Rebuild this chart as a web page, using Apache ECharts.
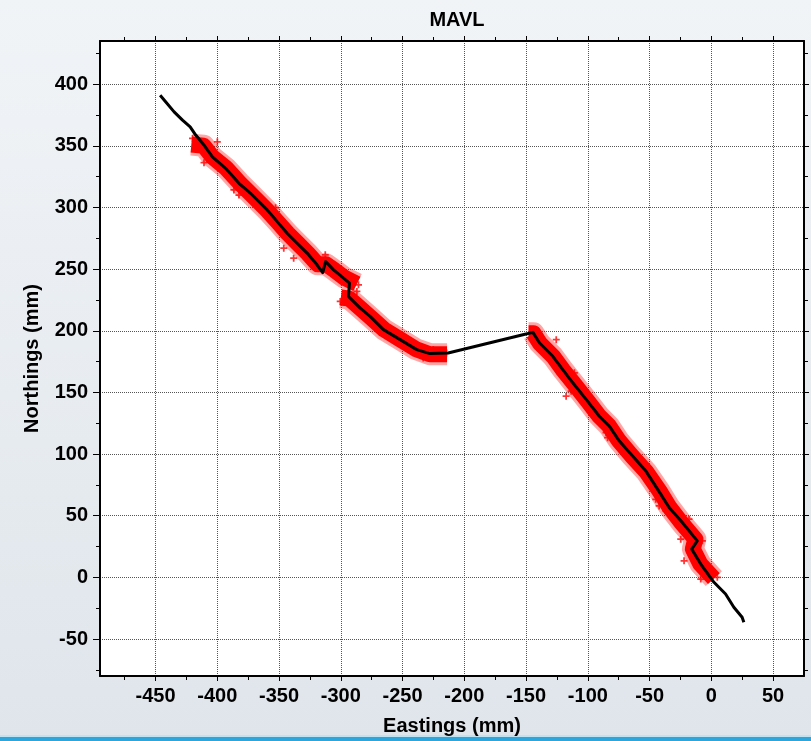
<!DOCTYPE html>
<html>
<head>
<meta charset="utf-8">
<script src="https://cdn.jsdelivr.net/npm/echarts@6/dist/echarts.min.js"></script>
<style>
	html, body { margin: 0; padding: 0; }
	#main { width: 811px; height: 741px; }
</style>
</head>
<body>
<div id="main"></div>
<script>
// tick values
var xMajor = [ -450, -400, -350, -300, -250, -200, -150, -100, -50, 0, 50 ];
var xMinor = [ -475, -425, -375, -325, -275, -225, -175, -125, -75, -25, 25 ];
var yMajor = [ -50, 0, 50, 100, 150, 200, 250, 300, 350, 400 ];
var yMinor = [ -75, -25, 25, 75, 125, 175, 225, 275, 325, 375, 425 ];

// black track (Eastings, Northings)
var track = [ [ -446.3, 391 ], [ -441.7, 385.6 ], [ -435, 377.5 ], [ -428.2, 370.8 ],
		[ -422, 365.4 ], [ -417.5, 358.7 ], [ -410.8, 350.6 ], [ -404, 341.1 ],
		[ -393.3, 331.7 ], [ -382.5, 319.6 ], [ -373.1, 311.5 ], [ -359.6, 298 ],
		[ -351.5, 288.5 ], [ -343.5, 279.1 ], [ -335.4, 271 ], [ -327.3, 263 ],
		[ -319.3, 253.5 ], [ -314.7, 247.2 ], [ -312.3, 256.1 ], [ -305.9, 249.4 ],
		[ -297.8, 242.7 ], [ -293, 238.7 ], [ -293.8, 227.8 ], [ -284.3, 218.4 ],
		[ -276.3, 211.7 ], [ -265.5, 200.9 ], [ -252, 192.8 ], [ -238.6, 184.7 ],
		[ -227.9, 181.5 ], [ -213.1, 182 ], [ -152.6, 196.8 ], [ -144.5, 198.7 ],
		[ -139.1, 190.1 ], [ -128.4, 179.3 ], [ -120.3, 168.5 ], [ -112.2, 157.8 ],
		[ -101.4, 144.3 ], [ -90.7, 130.7 ], [ -82.6, 122.7 ], [ -74.5, 110.5 ],
		[ -63.8, 98.4 ], [ -53, 86.2 ], [ -42.3, 69.5 ], [ -34.2, 56.6 ],
		[ -23.5, 44.5 ], [ -11.4, 29.6 ], [ -15.9, 22.9 ], [ -8.6, 10.8 ],
		[ 2.1, -4 ], [ 11.5, -13.5 ], [ 18.2, -24.3 ], [ 24.9, -32.4 ], [ 26.3, -36.4 ] ];

// red measurement cloud, read as band centre lines
var redBand1 = [ [ -421, 351 ], [ -411, 350 ], [ -404, 341 ], [ -393, 332 ], [ -382, 320 ],
		[ -373, 311 ], [ -360, 298 ], [ -351, 288 ], [ -343, 279 ], [ -335, 271 ],
		[ -327, 263 ], [ -319, 254 ], [ -312, 254 ], [ -305, 249 ], [ -297, 243 ],
		[ -287, 238 ] ];
var redBand2 = [ [ -300, 227 ], [ -293, 226 ], [ -284, 218 ], [ -276, 211 ], [ -265, 201 ],
		[ -252, 193 ], [ -239, 185 ], [ -228, 181 ], [ -214, 181 ] ];
var redBand3 = [ [ -148, 198 ], [ -144, 198 ], [ -139, 190 ], [ -128, 179 ], [ -120, 168 ],
		[ -112, 158 ], [ -101, 144 ], [ -91, 131 ], [ -83, 123 ], [ -75, 111 ],
		[ -64, 98 ], [ -53, 86 ], [ -42, 70 ], [ -34, 57 ], [ -24, 44 ], [ -13, 31 ],
		[ -15, 23 ], [ -9, 11 ], [ 2, -1 ] ];
// loose crosses at the edge of the cloud
var redOutliers = [ [ -400, 353.2 ], [ -410.8, 336.3 ], [ -420.1, 356 ], [ -386.6, 314.2 ],
		[ -382.5, 310.1 ], [ -352.9, 299.8 ], [ -346.2, 267 ], [ -338.2, 258.9 ],
		[ -312.6, 261.6 ], [ -285.7, 237.3 ], [ -287, 231.9 ], [ -300.5, 223.8 ],
		[ -225.2, 184.7 ], [ -214.4, 182 ], [ -233.3, 178 ], [ -117.6, 146.9 ],
		[ -113.5, 151 ], [ -84, 113.3 ], [ -85.3, 117.3 ], [ -58.4, 90.3 ],
		[ -45, 63.3 ], [ -36.9, 53.9 ], [ -125.6, 192.8 ], [ -110.9, 165.9 ],
		[ -42.3, 57.9 ], [ -24.8, 31 ], [ -18.1, 47.2 ], [ -22.1, 13.4 ],
		[ -7.3, 29.6 ], [ -8.6, -1.4 ], [ 4.8, 0 ] ];

var redData = redBand1.concat([ '-' ], redBand2, [ '-' ], redBand3);

var font = 'Liberation Sans, Arial, sans-serif';
var gridStyle = {
	color : '#555',
	width : 1,
	type : [ 1, 1 ]
};

function tickAxis(pos, vals, len, showLine) {
	return {
		type : 'value',
		position : pos,
		min : pos == 'top' || pos == 'bottom' ? -495 : -80,
		max : pos == 'top' || pos == 'bottom' ? 75 : 435,
		axisLine : {
			show : showLine,
			onZero : false,
			lineStyle : { color : '#000', width : 2 }
		},
		axisTick : {
			show : true,
			length : len,
			customValues : vals,
			lineStyle : { color : '#000', width : 1 }
		},
		axisLabel : { show : false },
		splitLine : { show : false }
	};
}

function showChart(divId) {
	var chart = echarts.init(document.getElementById(divId));
	var xMain = tickAxis('bottom', xMajor, 5, true);
	xMain.axisLabel = {
		show : true,
		customValues : xMajor,
		margin : 10,
		color : '#000',
		fontFamily : font,
		fontWeight : 'bold',
		fontSize : 20
	};
	xMain.splitLine = { show : true, lineStyle : gridStyle };
	xMain.name = 'Eastings (mm)';
	xMain.nameLocation = 'middle';
	xMain.nameGap = 40;
	xMain.nameTextStyle = { color : '#000', fontFamily : font, fontWeight : 'bold', fontSize : 20 };

	var yMain = tickAxis('left', yMajor, 7, true);
	yMain.axisLabel = {
		show : true,
		customValues : yMajor,
		margin : 12,
		color : '#000',
		fontFamily : font,
		fontWeight : 'bold',
		fontSize : 20
	};
	yMain.splitLine = { show : true, lineStyle : gridStyle };
	yMain.name = 'Northings (mm)';
	yMain.nameLocation = 'middle';
	yMain.nameGap = 58;
	yMain.nameTextStyle = { color : '#000', fontFamily : font, fontWeight : 'bold', fontSize : 20 };

	var option = {
		backgroundColor : new echarts.graphic.LinearGradient(0, 0, 0, 1, [ {
			offset : 0,
			color : '#f1f4f7'
		}, {
			offset : 1,
			color : '#dfe5eb'
		} ]),
		title : {
			text : 'MAVL',
			left : 452,
			top : 5,
			textAlign : 'center',
			textStyle : { color : '#000', fontFamily : font, fontWeight : 'bold', fontSize : 20 }
		},
		grid : {
			left : 100,
			right : 7,
			top : 41,
			bottom : 64,
			show : true,
			backgroundColor : '#fff',
			borderWidth : 0
		},
		graphic : [ {
			type : 'rect',
			left : 0,
			bottom : 0,
			shape : { width : 811, height : 4 },
			style : { fill : '#2ea6dc' }
		}, {
			type : 'rect',
			left : 0,
			bottom : 4,
			shape : { width : 811, height : 2 },
			style : { fill : '#bfe3f2' }
		} ],
		xAxis : [ xMain, tickAxis('bottom', xMinor, 4, false),
				tickAxis('top', xMajor, 5, true), tickAxis('top', xMinor, 4, false) ],
		yAxis : [ yMain, tickAxis('left', yMinor, 4, false),
				tickAxis('right', yMajor, 5, true), tickAxis('right', yMinor, 4, false) ],
		series : [ {
			name : 'cloud edge',
			type : 'line',
			data : redData,
			symbol : 'none',
			connectNulls : false,
			silent : true,
			z : 2,
			lineStyle : { color : '#ff0000', width : 22, opacity : 0.35, cap : 'butt', join : 'round' }
		}, {
			name : 'cloud',
			type : 'line',
			data : redData,
			symbol : 'none',
			connectNulls : false,
			silent : true,
			z : 2,
			lineStyle : { color : '#ff0000', width : 16, cap : 'butt', join : 'round' }
		}, {
			name : 'outliers',
			type : 'scatter',
			data : redOutliers,
			symbol : 'path://M3,0H5V3H8V5H5V8H3V5H0V3H3Z',
			symbolSize : 7,
			silent : true,
			z : 2,
			itemStyle : { color : '#ff0000' }
		}, {
			name : 'track',
			type : 'line',
			data : track,
			symbol : 'none',
			silent : true,
			z : 3,
			lineStyle : { color : '#000', width : 3, join : 'round' }
		} ]
	};
	chart.setOption(option, true);
}

showChart('main');
</script>
</body>
</html>
